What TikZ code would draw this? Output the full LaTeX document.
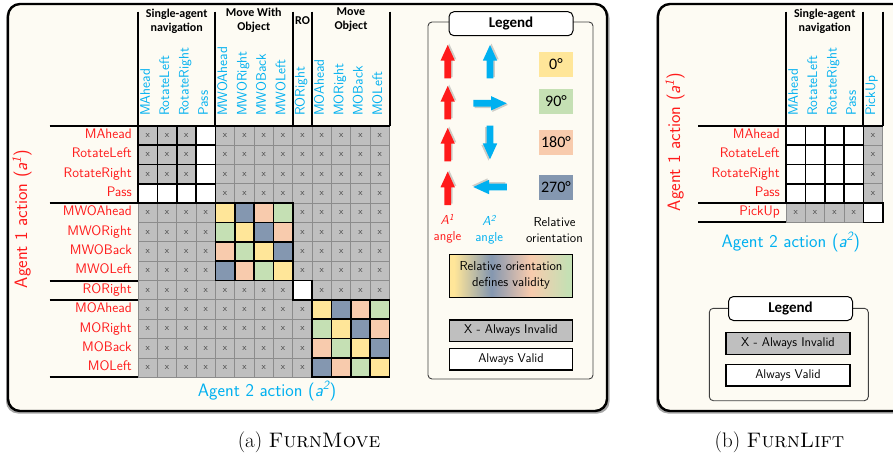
\documentclass[tikz,border=0pt]{standalone}
\usepackage{fontspec}
\newfontfamily\calibri{Carlito}

\definecolor{panelbg}{RGB}{253,251,243}
\definecolor{ori0}{HTML}{FFE699}
\definecolor{ori1}{HTML}{8497B0}
\definecolor{ori2}{HTML}{F8CBAD}
\definecolor{ori3}{HTML}{C5E0B4}
\definecolor{cellgray}{HTML}{BFBFBF}
\definecolor{agentred}{HTML}{FF1A1A}
\definecolor{agentblue}{HTML}{00B0F0}
\definecolor{xmark}{HTML}{404040}
\definecolor{gridline}{HTML}{8C8C8C}

% yellow -> slate -> salmon -> green, used for the "defines validity" key
\pgfdeclarehorizontalshading{orishade}{100bp}{color(0bp)=(ori0); color(27bp)=(ori0); color(42bp)=(ori1); color(58bp)=(ori2); color(73bp)=(ori3); color(100bp)=(ori3)}

\tikzset{
  cellbase/.style={minimum size=19.35pt, inner sep=0pt, outer sep=0pt,
    font=\fontsize{9}{10}\selectfont\sffamily, text=xmark},
  badcell/.style={cellbase, fill=cellgray, draw=gridline, line width=0.8pt},
  blockcell/.style={cellbase, draw=black, line width=1.6pt},
  rowlab/.style={anchor=mid east, inner sep=0pt, text=agentred,
    font=\fontsize{13.8}{16}\selectfont\sffamily},
  collab/.style={anchor=mid west, rotate=90, inner sep=0pt, text=agentblue,
    font=\fontsize{13.8}{16}\selectfont\sffamily},
  grouplab/.style={align=center, inner sep=0pt,
    font=\fontsize{12}{14}\selectfont\calibri\bfseries},
  groupline/.style={line width=2pt},
  axislab/.style={inner sep=0pt, font=\fontsize{18}{20}\selectfont\sffamily},
  panel/.style={draw=black, line width=2.4pt, rounded corners=12pt, fill=panelbg},
  panelshadow/.style={fill=black!35, rounded corners=12pt},
  legendframe/.style={draw=black!75, line width=0.9pt, rounded corners=4pt},
  legendtitle/.style={draw=black, fill=white, line width=1pt, rounded corners=5pt,
    minimum width=124pt, minimum height=24pt, inner sep=0pt,
    font=\fontsize{15}{17}\selectfont\calibri\bfseries},
  keybox/.style={draw=black, line width=1.3pt, inner sep=0pt,
    minimum width=123.4pt, minimum height=21.7pt,
    font=\fontsize{12.7}{15}\selectfont\sffamily},
  degbox/.style={minimum width=33.4pt, minimum height=25pt, inner sep=0pt,
    font=\fontsize{16}{18}\selectfont\calibri},
  smalllab/.style={align=center, inner sep=0pt,
    font=\fontsize{13}{16}\selectfont\sffamily},
  caption/.style={anchor=base, inner sep=0pt, font=\fontsize{21}{24}\selectfont\rmfamily},
  blockarrow/.pic={
    \fill[black, opacity=0.18, xshift=1.3pt, yshift=-1.5pt]
      (-16.75,-3.4) -- (1,-3.4) -- (1,-7.2) -- (16.75,0) -- (1,7.2) -- (1,3.4) -- (-16.75,3.4) -- cycle;
    \fill[#1]
      (-16.75,-3.4) -- (1,-3.4) -- (1,-7.2) -- (16.75,0) -- (1,7.2) -- (1,3.4) -- (-16.75,3.4) -- cycle;
  },
}

\begin{document}
\begin{tikzpicture}[x=1pt, y=-1pt]
\useasboundingbox (0,0) rectangle (893,454);
\clip (0,0) rectangle (893,454);

% ---------------- panel (a): FurnMove ----------------
\fill[panelshadow] (6,6) rectangle (609.5,413.5);
\path[panel] (8,4) rectangle (607,411);

% action matrix: default cells are invalid
\foreach \rr in {0,...,12}{
  \foreach \cc in {0,...,12}{
    \pgfmathtruncatemacro\inblock{(\rr<4 && \cc<4) || (\rr>3 && \rr<8 && \cc>3 && \cc<8) || (\rr==8 && \cc==8) || (\rr>8 && \cc>8)}
    \ifnum\inblock=0
      \node[badcell] (L-\rr-\cc) at ({138+19.35*(\cc+0.5)},{125.7+19.35*(\rr+0.5)}) {x};
    \fi
  }
}
% single-agent navigation block
\foreach \rr in {0,...,3}{
  \foreach \cc in {0,...,3}{
    \pgfmathtruncatemacro\bad{\rr<3 && \cc<3}
    \ifnum\bad=1
      \node[blockcell, fill=cellgray] (L-\rr-\cc) at ({138+19.35*(\cc+0.5)},{125.7+19.35*(\rr+0.5)}) {x};
    \else
      \node[blockcell, fill=white] (L-\rr-\cc) at ({138+19.35*(\cc+0.5)},{125.7+19.35*(\rr+0.5)}) {};
    \fi
  }
}
% move-with-object and move-object blocks, coloured by relative orientation
\foreach \base in {4,9}{
  \foreach \ii in {0,...,3}{
    \foreach \jj in {0,...,3}{
      \pgfmathtruncatemacro\kk{mod(\jj-\ii+4,4)}
      \pgfmathtruncatemacro\rr{\base+\ii}
      \pgfmathtruncatemacro\cc{\base+\jj}
      \node[blockcell, fill=ori\kk] (L-\rr-\cc) at ({138+19.35*(\cc+0.5)},{125.7+19.35*(\rr+0.5)}) {};
    }
  }
}
% rotate-object cell
\node[blockcell, fill=white] (L-8-8) at ({138+19.35*8.5},{125.7+19.35*8.5}) {};

% row and column labels
\foreach \lab [count=\n from 0] in {MAhead,RotateLeft,RotateRight,Pass,MWOAhead,MWORight,MWOBack,MWOLeft,RORight,MOAhead,MORight,MOBack,MOLeft}{
  \node[rowlab] (LR-\n) at (132,{125.7+19.35*(\n+0.5)+1}) {\lab};
  \node[collab] (LC-\n) at ({138+19.35*(\n+0.5)},116) {\lab};
}

% group separators
\foreach \xx in {138,215.4,292.8,312.15,389.55}{
  \draw[groupline] (\xx,11.7) -- (\xx,125.7);
}
\draw[groupline] (49.5,125.7) -- (389.55,125.7);
\foreach \yy in {203.1,280.5,299.85,377.25}{
  \draw[groupline] (49.5,\yy) -- (138,\yy);
}
\node[grouplab] (gSA) at (176.7,21) {Single-agent\\navigation};
\node[grouplab] (gMWO) at (253.8,20) {Move With\\Object};
\node[grouplab] (gRO) at (302.5,20.5) {RO};
\node[grouplab] (gMO) at (351,20) {Move\\Object};

% axis titles
\node[axislab, rotate=90, text=agentred] (ax1) at (22,219) {Agent 1 action (\textsl{a\textsuperscript{1}})};
\node[axislab, text=agentblue] (ax2) at (267,391) {Agent 2 action (\textsl{a\textsuperscript{2}})};

% legend
\draw[legendframe] (428,22) rectangle (593,379);
\node[legendtitle] (legA) at (511,23.7) {Legend};

\pic at (447.7,61.7) [rotate=90] {blockarrow=agentred};
\pic at (447.7,102.7) [rotate=90] {blockarrow=agentred};
\pic at (447.7,144.7) [rotate=90] {blockarrow=agentred};
\pic at (447.7,188.3) [rotate=90] {blockarrow=agentred};
\pic at (490,61.7) [rotate=90] {blockarrow=agentblue};
\pic at (490,103.3) {blockarrow=agentblue};
\pic at (490,142.5) [rotate=-90] {blockarrow=agentblue};
\pic at (490,187) [rotate=180] {blockarrow=agentblue};

\node[degbox, fill=ori0] (d0) at (556,64.2) {0°};
\node[degbox, fill=ori3] (d90) at (556,101.3) {90°};
\node[degbox, fill=ori2] (d180) at (556,142.5) {180°};
\node[degbox, fill=ori1] (d270) at (556,187.5) {270°};

\node[smalllab, text=agentred] (angA) at (447.5,228.5) {\textsl{A\textsuperscript{1}}\\angle};
\node[smalllab, text=agentblue] (angB) at (489.2,229.7) {\textsl{A\textsuperscript{2}}\\angle};
\node[smalllab] (relo) at (554.5,230.5) {Relative\\orientation};

\node[keybox, shading=orishade, minimum height=43pt, align=center,
      font=\fontsize{13}{16}\selectfont\sffamily] (grad) at (511,275.8) {Relative orientation\\defines validity};
\node[keybox, fill=cellgray] (invA) at (511,330.85) {X - Always Invalid};
\node[keybox, fill=white] (valA) at (511,359.15) {Always Valid};

\node[caption] (capA) at (309,447) {(a) \textsc{FurnMove}};

% ---------------- panel (b): FurnLift ----------------
\fill[panelshadow] (656,6) rectangle (910,413.5);
\path[panel] (658,4) rectangle (908,411);

\foreach \rr in {0,...,4}{
  \foreach \cc in {0,...,4}{
    \pgfmathtruncatemacro\valid{(\rr<4 && \cc<4) || (\rr==4 && \cc==4)}
    \ifnum\valid=0
      \node[badcell] (R-\rr-\cc) at ({786+19.35*(\cc+0.5)},{125.7+19.35*(\rr+0.5)}) {x};
    \fi
  }
}
\foreach \rr in {0,...,4}{
  \foreach \cc in {0,...,4}{
    \pgfmathtruncatemacro\valid{(\rr<4 && \cc<4) || (\rr==4 && \cc==4)}
    \ifnum\valid=1
      \node[blockcell, fill=white] (R-\rr-\cc) at ({786+19.35*(\cc+0.5)},{125.7+19.35*(\rr+0.5)}) {};
    \fi
  }
}
\foreach \lab [count=\n from 0] in {MAhead,RotateLeft,RotateRight,Pass,PickUp}{
  \node[rowlab] (RR-\n) at (780,{125.7+19.35*(\n+0.5)+1}) {\lab};
  \node[collab] (RC-\n) at ({786+19.35*(\n+0.5)},116) {\lab};
}
\foreach \xx in {786,863.4,882.75}{
  \draw[groupline] (\xx,11.7) -- (\xx,125.7);
}
\draw[groupline] (698.3,125.7) -- (882.75,125.7);
\foreach \yy in {203.1,222.45}{
  \draw[groupline] (698.3,\yy) -- (786,\yy);
}
\node[grouplab] (gSB) at (824.7,21) {Single-agent\\navigation};

\node[axislab, rotate=90, text=agentred] (bx1) at (675,142) {Agent 1 action (\textsl{a\textsuperscript{1}})};
\node[axislab, text=agentblue] (bx2) at (790.8,242) {Agent 2 action (\textsl{a\textsuperscript{2}})};

\draw[legendframe] (709.3,308.3) rectangle (868.3,400.7);
\node[legendtitle] (legB) at (790.5,308.5) {Legend};
\node[keybox, fill=cellgray, minimum width=124pt] (invB) at (788,343.35) {X - Always Invalid};
\node[keybox, fill=white, minimum width=124pt] (valB) at (788,375) {Always Valid};

\node[caption] (capB) at (779.5,447) {(b) \textsc{FurnLift}};
\end{tikzpicture}
\end{document}
